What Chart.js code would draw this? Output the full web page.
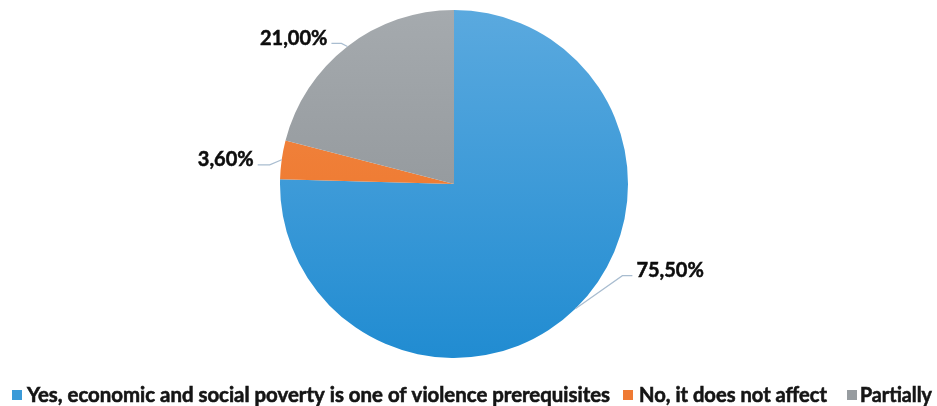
<!DOCTYPE html>
<html>
<head>
<meta charset="utf-8">
<script src="https://cdn.jsdelivr.net/npm/chart.js@4.4.1/dist/chart.umd.min.js"></script>
<style>
  html, body { margin: 0; padding: 0; background: #ffffff; }
  #wrap { width: 937px; height: 406px; }
</style>
</head>
<body>
<div id="wrap"><canvas id="c" width="937" height="406"></canvas></div>
<script>
// Survey answers and their shares (percent)
const categories = [
  'Yes, economic and social poverty is one of violence prerequisites',
  'No, it does not affect',
  'Partially'
];
const shares = [75.5, 3.6, 21.0];
const valueLabels = ['75,50%', '3,60%', '21,00%'];

// Flat colours for legend markers, gradient stops for slices
const flatColors = ['#3a9ad8', '#ef7a33', '#979ca0'];
const gradStops = [
  ['#5caadf', '#1f8bd1'],
  ['#f28a47', '#ec6f22'],
  ['#a6abaf', '#868b8f']
];

function sliceFill(ctx) {
  const chart = ctx.chart;
  const area = chart.chartArea;
  if (!area) return flatColors[ctx.dataIndex];
  const stops = gradStops[ctx.dataIndex];
  const g = chart.ctx.createLinearGradient(0, area.top, 0, area.bottom);
  g.addColorStop(0, stops[0]);
  g.addColorStop(1, stops[1]);
  return g;
}

// Leader lines + value labels placed beside each slice
const calloutPlugin = {
  id: 'callouts',
  afterDatasetsDraw(chart, args, opts) {
    const meta = chart.getDatasetMeta(0);
    const ctx = chart.ctx;
    ctx.save();
    meta.data.forEach((arc, i) => {
      const p = arc.getProps(['x', 'y', 'startAngle', 'endAngle', 'outerRadius'], true);
      const mid = (p.startAngle + p.endAngle) / 2;
      const ex = p.x + Math.cos(mid) * p.outerRadius;
      const ey = p.y + Math.sin(mid) * p.outerRadius;
      const o = opts.offsets[i];
      const elbowX = ex + o.elbow[0], elbowY = ey + o.elbow[1];
      const endX = elbowX + o.run;
      ctx.strokeStyle = opts.lineColor;
      ctx.lineWidth = 1.2;
      ctx.beginPath();
      ctx.moveTo(ex, ey);
      ctx.lineTo(elbowX, elbowY);
      ctx.lineTo(endX, elbowY);
      ctx.stroke();
      ctx.font = opts.font;
      ctx.fillStyle = opts.color;
      ctx.strokeStyle = opts.color;
      ctx.lineWidth = 0.5;
      ctx.textBaseline = 'middle';
      ctx.textAlign = o.run < 0 ? 'right' : 'left';
      const tx = endX + (o.run < 0 ? -4 : 4), ty = elbowY - 5;
      ctx.fillText(valueLabels[i], tx, ty);
      ctx.strokeText(valueLabels[i], tx, ty);
    });
    ctx.restore();
  }
};

// Single-row legend under the pie, each entry fitted to its slot
const rowLegendPlugin = {
  id: 'rowLegend',
  afterDraw(chart, args, opts) {
    const ctx = chart.ctx;
    ctx.save();
    ctx.font = opts.font;
    ctx.textBaseline = 'middle';
    ctx.textAlign = 'left';
    categories.forEach((c, i) => {
      const slot = opts.slots[i];
      ctx.fillStyle = flatColors[i];
      ctx.fillRect(slot.box, opts.y - opts.box / 2, opts.box, opts.box);
      const w = ctx.measureText(c).width;
      ctx.save();
      ctx.translate(slot.text, opts.y);
      ctx.scale(slot.width / w, 1);
      ctx.fillStyle = opts.color;
      ctx.strokeStyle = opts.color;
      ctx.lineWidth = 0.6;
      ctx.fillText(c, 0, 0);
      ctx.strokeText(c, 0, 0);
      ctx.restore();
    });
    ctx.restore();
  }
};

new Chart(document.getElementById('c'), {
  type: 'pie',
  data: {
    labels: categories,
    datasets: [{
      data: shares,
      backgroundColor: sliceFill,
      borderWidth: 0
    }]
  },
  options: {
    responsive: false,
    animation: false,
    radius: 174,
    layout: { padding: { top: 0, left: 0, right: 29, bottom: 38 } },
    plugins: {
      tooltip: { enabled: false },
      legend: { display: false },
      rowLegend: {
        font: "bold 21px Lato, 'Open Sans', sans-serif",
        color: '#151515',
        y: 395,
        box: 10,
        slots: [
          { box: 12, text: 27, width: 583 },
          { box: 623, text: 639, width: 188 },
          { box: 847, text: 860, width: 72 }
        ]
      },
      callouts: {
        font: "bold 20px Lato, 'Liberation Sans', sans-serif",
        color: '#0d0d0d',
        lineColor: '#a9bdd0',
        offsets: [
          { elbow: [47, -33], run: 10 },
          { elbow: [-12, 5], run: -12 },
          { elbow: [-6, -3], run: -10 }
        ]
      }
    }
  },
  plugins: [calloutPlugin, rowLegendPlugin]
});
</script>
</body>
</html>
